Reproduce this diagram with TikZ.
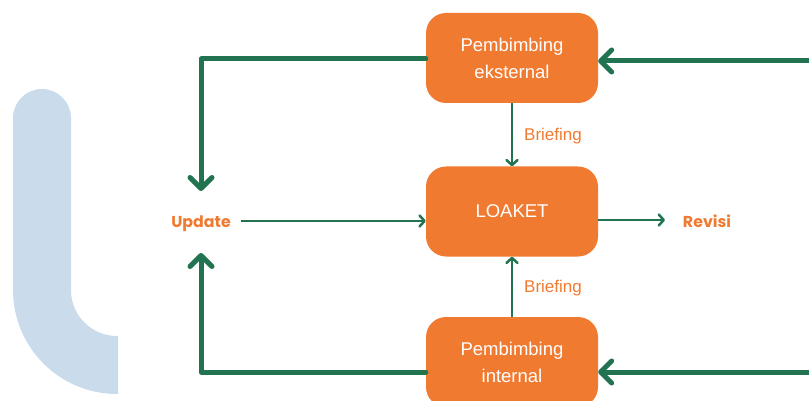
\documentclass[tikz,border=0pt]{standalone}
\usepackage{fontspec}
\setmainfont{Poppins}
\newfontfamily\arialfont{Liberation Sans}
\usetikzlibrary{arrows.meta}
\definecolor{boxor}{HTML}{F17A31}
\definecolor{grn}{HTML}{21744F}
\definecolor{lblue}{HTML}{CADCEC}
\begin{document}
\begin{tikzpicture}[x=1pt,y=-1pt,
  box/.style={fill=boxor, rounded corners=20pt, minimum width=172pt, minimum height=90pt, text=white, font=\arialfont\fontsize{18.5}{27}\selectfont, align=center, inner sep=0pt},
  lbl/.style={text=boxor, font=\arialfont\fontsize{17}{18}\selectfont, inner sep=0pt},
  blbl/.style={text=boxor, font=\bfseries\fontsize{15.8}{17}\selectfont, inner sep=2pt},
  thick arr/.style={draw=grn, line width=5pt, line cap=round, line join=round, -{Straight Barb[length=11pt,width=22pt,line cap=round,line join=round]}},
  thin arr/.style={draw=grn, line width=2.5pt, -{Straight Barb[length=5pt,width=11pt,line cap=round,line join=round]}}
]
\useasboundingbox (0,0) rectangle (809,401);
% background decorative L
\begin{scope}
\clip (0,0) rectangle (118,401);
\draw[lblue, line width=58pt, line cap=round] (42,118) -- (42,290) arc[start angle=180, end angle=90, radius=75] -- (140,365);
\end{scope}
% nodes
\node[box] (ext) at (512,58) {Pembimbing\\eksternal};
\node[box] (loaket) at (512,211.5) {LOAKET};
\node[box] (int) at (512,362) {Pembimbing\\internal};
\node[blbl, anchor=center] (upd) at (201,224) {Update};
\node[blbl, anchor=center] (rev) at (707,221) {Revisi};
\node[lbl, anchor=west] (b1) at (524,136) {Briefing};
\node[lbl, anchor=west] (b2) at (524,288) {Briefing};
\coordinate (tr) at (809,61);
\coordinate (br) at (809,372);
\coordinate (tl) at (201,59);
\coordinate (bl) at (201,372);
\coordinate (updtop) at (201,191);
\coordinate (updbot) at (201,253);
% thick connectors
\draw[thick arr] (tr) -- (tr -| ext.east);
\draw[thick arr] (br) -- (br -| int.east);
\draw[thick arr] (tl -| ext.west) -- (tl) -- (updtop);
\draw[thick arr] (bl -| int.west) -- (bl) -- (updbot);
% thin connectors
\draw[thin arr] (241,221) -- (loaket.west |- 0,221);
\draw[thin arr] (loaket.east |- 0,220) -- (665,220);
\draw[thin arr] (ext.south) -- (loaket.north);
\draw[thin arr] (int.north) -- (loaket.south);
\end{tikzpicture}
\end{document}
